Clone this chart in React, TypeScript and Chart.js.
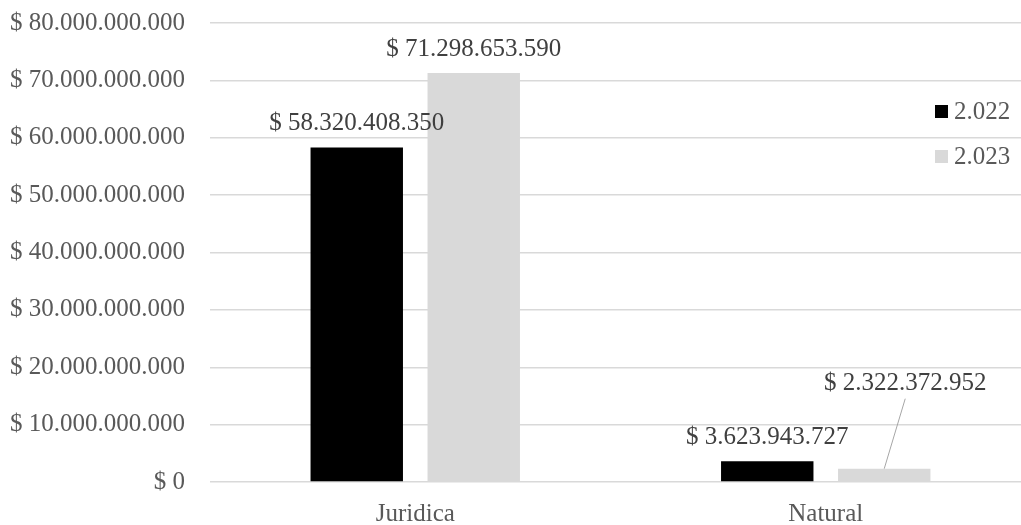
import React, { useEffect, useRef } from "react";
import { Chart, registerables } from "chart.js";

Chart.register(...registerables);

const categories = ["Juridica", "Natural"];
const seriesNames = ["2.022", "2.023"];
const values2022 = [58320408350, 3623943727];
const values2023 = [71298653590, 2322372952];
const seriesColors = ["#000000", "#d9d9d9"];
const yMax = 80000000000;
const yStep = 10000000000;

const FONT = "'Liberation Serif', 'Times New Roman', serif";

function money(v: number): string {
  const s = Math.round(v).toString().replace(/\B(?=(\d{3})+(?!\d))/g, ".");
  return "$ " + s;
}

const labelsPlugin = {
  id: "valueLabels",
  afterDatasetsDraw(chart: any) {
    const ctx = chart.ctx;
    ctx.save();
    ctx.font = `25px ${FONT}`;
    ctx.fillStyle = "#404040";
    ctx.textAlign = "center";
    ctx.textBaseline = "alphabetic";
    chart.data.datasets.forEach((ds: any, di: number) => {
      const meta = chart.getDatasetMeta(di);
      meta.data.forEach((bar: any, i: number) => {
        const v = ds.data[i];
        const text = money(v);
        if (di === 1 && i === 1) {
          // callout label with leader line
          const lx = bar.x + 21;
          const ly = bar.y - 70;
          ctx.strokeStyle = "#a6a6a6";
          ctx.lineWidth = 1;
          ctx.beginPath();
          ctx.moveTo(bar.x, bar.y);
          ctx.lineTo(lx, ly);
          ctx.stroke();
          ctx.fillText(text, lx, ly - 9);
        } else {
          ctx.fillText(text, bar.x, bar.y - 17);
        }
      });
    });
    // legend
    const legendX = 935;
    const legendY = [105, 150];
    ctx.textAlign = "left";
    seriesNames.forEach((name, i) => {
      ctx.fillStyle = seriesColors[i];
      ctx.fillRect(legendX, legendY[i], 13, 13);
      ctx.fillStyle = "#595959";
      ctx.fillText(name, legendX + 19, legendY[i] + 14);
    });
    ctx.restore();
  },
};

export default function App() {
  const ref = useRef<HTMLCanvasElement | null>(null);
  useEffect(() => {
    document.documentElement.style.overflow = "hidden";
    document.body.style.overflow = "hidden";
    const chart = new Chart(ref.current!, {
      type: "bar",
      data: {
        labels: categories,
        datasets: [
          {
            label: seriesNames[0],
            data: values2022,
            backgroundColor: seriesColors[0],
            categoryPercentage: 0.57,
            barPercentage: 0.79,
          },
          {
            label: seriesNames[1],
            data: values2023,
            backgroundColor: seriesColors[1],
            categoryPercentage: 0.57,
            barPercentage: 0.79,
          },
        ],
      },
      options: {
        animation: false,
        responsive: false,
        maintainAspectRatio: false,
        layout: { padding: { top: 23, right: 0, bottom: 0, left: 0 } },
        plugins: {
          legend: { display: false },
          tooltip: { enabled: false },
        },
        scales: {
          x: {
            grid: { display: false },
            border: { display: false },
            ticks: {
              color: "#595959",
              font: { family: FONT, size: 25 },
              padding: 9,
            },
            afterFit(scale: any) {
              scale.height = 43;
              scale.paddingLeft = 0;
              scale.paddingRight = 0;
            },
          },
          y: {
            min: 0,
            max: yMax,
            border: { display: false },
            grid: { color: "#d9d9d9", lineWidth: 1.5, drawTicks: false },
            ticks: {
              stepSize: yStep,
              color: "#595959",
              font: { family: FONT, size: 25 },
              padding: 25,
              callback: (v: any) => money(Number(v)),
            },
            afterFit(scale: any) {
              scale.width = 210;
              scale.paddingTop = 0;
              scale.paddingBottom = 0;
            },
          },
        },
      },
      plugins: [labelsPlugin],
    });
    return () => chart.destroy();
  }, []);
  return (
    <div style={{ position: "fixed", left: 0, top: 0, width: 1031, height: 525 }}>
      <canvas ref={ref} width={1031} height={525} style={{ width: 1031, height: 525 }} />
    </div>
  );
}
